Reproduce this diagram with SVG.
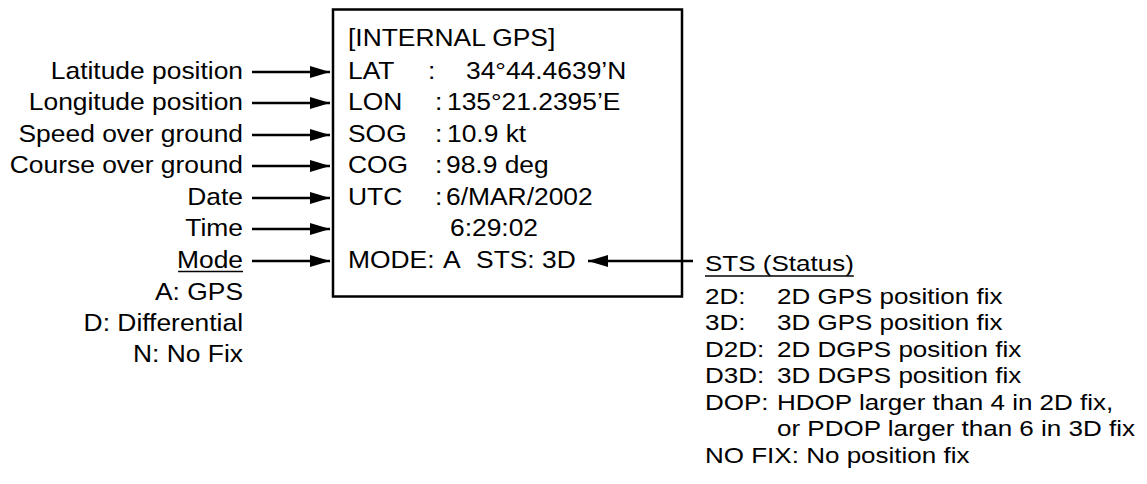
<svg xmlns="http://www.w3.org/2000/svg" width="1147" height="484" viewBox="0 0 1147 484">
<defs>
<style>
text{font-family:"Liberation Sans",Arial,sans-serif;fill:#000}
.big{font-size:24px}
.sm{font-size:21.5px}
.lbl{text-anchor:end}
.ln{stroke:#000;stroke-width:2.5;fill:none}
.ul{stroke:#000;stroke-width:1.5;fill:none}
.box{stroke:#000;stroke-width:2.5;fill:#fff}
</style>
<marker id="ah" viewBox="0 0 20 12" refX="20" refY="6" markerWidth="20" markerHeight="12" markerUnits="userSpaceOnUse" orient="auto">
<path d="M0,0 L20,6 L0,12 Z" fill="#000"/>
</marker>
</defs>
<g id="display">
<rect class="box" x="333" y="9.5" width="349" height="287"/>
<g transform="translate(348 0) scale(1.1 1) translate(-348 0)">
<text class="big" x="348" y="46">[INTERNAL GPS]</text>
<text class="big" y="79"><tspan x="348">LAT</tspan><tspan x="420.7">:</tspan><tspan x="455.3">34°44.4639’N</tspan></text>
<text class="big" y="110"><tspan x="348">LON</tspan><tspan x="427.1">:</tspan><tspan x="438">135°21.2395’E</tspan></text>
<text class="big" y="142"><tspan x="348">SOG</tspan><tspan x="427.1">:</tspan><tspan x="438">10.9 kt</tspan></text>
<text class="big" y="173"><tspan x="348">COG</tspan><tspan x="427.1">:</tspan><tspan x="437.1">98.9 deg</tspan></text>
<text class="big" y="205"><tspan x="348">UTC</tspan><tspan x="427.1">:</tspan><tspan x="437.1">6/MAR/2002</tspan></text>
<text class="big" x="440.7" y="236">6:29:02</text>
<text class="big" y="268"><tspan x="348">MODE:</tspan><tspan x="434.4">A</tspan><tspan x="464.4">STS:</tspan><tspan x="524.4">3D</tspan></text>
</g>
</g>
<g id="labels-left" transform="translate(243 0) scale(1.1 1) translate(-243 0)">
<text class="big lbl" x="243" y="79">Latitude position</text>
<text class="big lbl" x="243" y="110">Longitude position</text>
<text class="big lbl" x="243" y="142">Speed over ground</text>
<text class="big lbl" x="243" y="173">Course over ground</text>
<text class="big lbl" x="243" y="205">Date</text>
<text class="big lbl" x="243" y="236">Time</text>
</g>
<g id="mode-legend" transform="translate(243 0) scale(1.1 1) translate(-243 0)">
<text class="big lbl" x="243" y="268">Mode</text>
<line class="ul" x1="184" y1="271.5" x2="243" y2="271.5"/>
<text class="big lbl" x="243" y="300">A: GPS</text>
<text class="big lbl" x="243" y="331">D: Differential</text>
<text class="big lbl" x="243" y="362">N: No Fix</text>
</g>
<g id="sts-legend" transform="translate(705 0) scale(1.21 1) translate(-705 0)">
<text class="sm" x="705" y="271">STS (Status)</text>
<line class="ul" x1="705" y1="276" x2="828" y2="276"/>
<text class="sm" y="304"><tspan x="705">2D:</tspan><tspan x="764.5">2D GPS position fix</tspan></text>
<text class="sm" y="330.5"><tspan x="705">3D:</tspan><tspan x="764.5">3D GPS position fix</tspan></text>
<text class="sm" y="357"><tspan x="705">D2D:</tspan><tspan x="764.5">2D DGPS position fix</tspan></text>
<text class="sm" y="383.5"><tspan x="705">D3D:</tspan><tspan x="764.5">3D DGPS position fix</tspan></text>
<text class="sm" y="410"><tspan x="705">DOP:</tspan><tspan x="764.5">HDOP larger than 4 in 2D fix,</tspan></text>
<text class="sm" x="764.5" y="436.5">or PDOP larger than 6 in 3D fix</text>
<text class="sm" x="705" y="463">NO FIX: No position fix</text>
</g>
<g id="connectors">
<line class="ln" x1="252" y1="72" x2="330" y2="72" marker-end="url(#ah)"/>
<line class="ln" x1="252" y1="103" x2="330" y2="103" marker-end="url(#ah)"/>
<line class="ln" x1="252" y1="135" x2="330" y2="135" marker-end="url(#ah)"/>
<line class="ln" x1="252" y1="166" x2="330" y2="166" marker-end="url(#ah)"/>
<line class="ln" x1="252" y1="198" x2="330" y2="198" marker-end="url(#ah)"/>
<line class="ln" x1="252" y1="229" x2="330" y2="229" marker-end="url(#ah)"/>
<line class="ln" x1="252" y1="261" x2="330" y2="261" marker-end="url(#ah)"/>
<line class="ln" x1="693" y1="261" x2="588" y2="261" marker-end="url(#ah)"/>
</g>
</svg>
